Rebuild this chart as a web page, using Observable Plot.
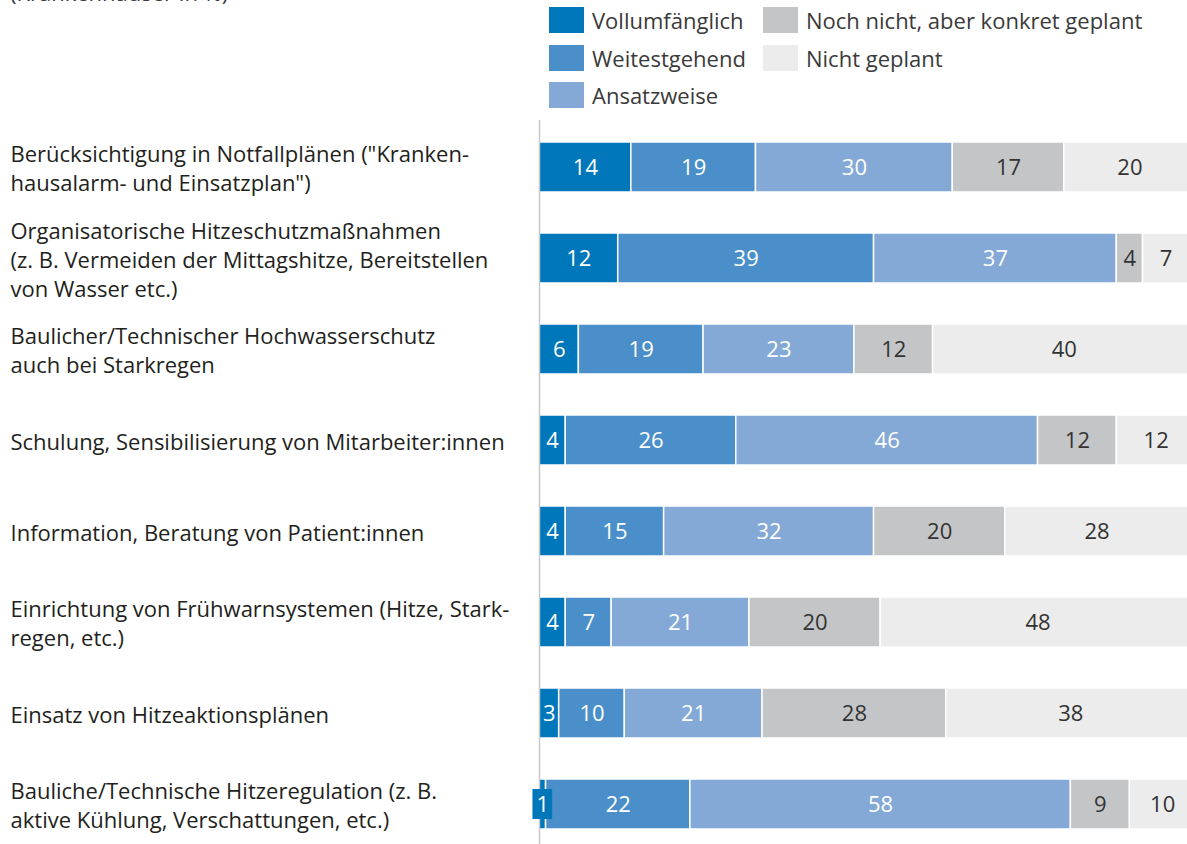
<!DOCTYPE html>
<html>
<head>
<meta charset="utf-8">
<script src="https://cdn.jsdelivr.net/npm/d3@7"></script>
<script src="https://cdn.jsdelivr.net/npm/@observablehq/plot@0.6"></script>
<style>
  html, body { margin: 0; padding: 0; background: #fff; }
  body { width: 1187px; height: 844px; overflow: hidden; position: relative; font-family: "Open Sans", sans-serif; color: #231f20; }
  #title { position: absolute; left: 10px; top: -23.5px; font-size: 22px; line-height: 30px; white-space: nowrap; color: #3a3a3a; }
  #legend { position: absolute; left: 549px; top: 7px; display: grid; grid-template-columns: 214px auto; grid-auto-rows: 26px; row-gap: 11.5px; font-size: 22px; color: #3a3a3a; }
  .item { display: flex; align-items: center; height: 26px; white-space: nowrap; }
  .sw { width: 35px; height: 26px; margin-right: 8px; flex: none; }
  #chart { position: absolute; left: 0; top: 0; }
</style>
</head>
<body>
<div id="title">(Krankenhäuser in %)</div>
<div id="legend"></div>
<div id="chart"></div>
<script>
const categories = [
  "Berücksichtigung in Notfallplänen (\"Kranken-\nhausalarm- und Einsatzplan\")",
  "Organisatorische Hitzeschutzmaßnahmen\n(z. B. Vermeiden der Mittagshitze, Bereitstellen\nvon Wasser etc.)",
  "Baulicher/Technischer Hochwasserschutz\nauch bei Starkregen",
  "Schulung, Sensibilisierung von Mitarbeiter:innen",
  "Information, Beratung von Patient:innen",
  "Einrichtung von Frühwarnsystemen (Hitze, Stark-\nregen, etc.)",
  "Einsatz von Hitzeaktionsplänen",
  "Bauliche/Technische Hitzeregulation (z. B.\naktive Kühlung, Verschattungen, etc.)"
];
const series = ["Vollumfänglich", "Weitestgehend", "Ansatzweise", "Noch nicht, aber konkret geplant", "Nicht geplant"];
const colors = ["#0077bb", "#4a8fc9", "#84a9d6", "#c4c5c7", "#ebeceb"];
const labelColors = ["#ffffff", "#ffffff", "#ffffff", "#333333", "#333333"];
const vollumfaenglich = [14, 12, 6, 4, 4, 4, 3, 1];
const weitestgehend   = [19, 39, 19, 26, 15, 7, 10, 22];
const ansatzweise     = [30, 37, 23, 46, 32, 21, 21, 58];
const nochNicht       = [17, 4, 12, 12, 20, 20, 28, 9];
const nichtGeplant    = [20, 7, 40, 12, 28, 48, 38, 10];
const legendOrder = [0, 3, 1, 4, 2];

const seriesValues = [vollumfaenglich, weitestgehend, ansatzweise, nochNicht, nichtGeplant];
const rows = [];
categories.forEach((c, i) => {
  let acc = 0;
  series.forEach((s, j) => {
    const v = seriesValues[j][i];
    rows.push({cat: c, series: s, value: v, x1: acc, x2: acc + v, idx: j});
    acc += v;
  });
});
const small = rows.filter(d => d.value < 2);

const step = 91.43, pad = 0.45;
const firstCenter = 165.5;
const r0 = firstCenter - step * (pad + (1 - pad) / 2);
const r1 = r0 + step * (categories.length + pad);

const chart = Plot.plot({
  width: 1187,
  height: 844,
  marginLeft: 539,
  marginRight: 0,
  marginTop: 120,
  marginBottom: 0,
  style: {fontFamily: "'Open Sans', sans-serif", fontSize: "22px", color: "#231f20", background: "transparent", overflow: "hidden"},
  x: {domain: [0, 100], range: [539, 1195], axis: null},
  y: {domain: categories, range: [r0, r1], padding: pad, label: null},
  color: {domain: series, range: colors},
  marks: [
    Plot.barX(rows, {y: "cat", x1: "x1", x2: "x2", fill: "series", stroke: "#fff", strokeWidth: 1.5}),
    Plot.ruleX([0], {stroke: "#c8c8c8", strokeWidth: 1.5}),
    Plot.barX(small, {y: "cat", x1: d => (d.x1 + d.x2) / 2 - 1.5, x2: d => (d.x1 + d.x2) / 2 + 1.5, fill: "series", insetTop: 10, insetBottom: 10}),
    Plot.text(rows, {y: "cat", x: d => (d.x1 + d.x2) / 2, text: d => String(d.value), fill: d => labelColors[d.idx], fontSize: 22}),
    Plot.axisY({tickSize: 0, textAnchor: "start", dx: -529, fontSize: 22, lineHeight: 1.32, fill: "#231f20", tickPadding: 0})
  ]
});
document.getElementById("chart").appendChild(chart);

const legend = document.getElementById("legend");
legendOrder.forEach(j => {
  const el = document.createElement("div");
  el.className = "item";
  el.innerHTML = `<span class="sw" style="background:${colors[j]}"></span><span>${series[j]}</span>`;
  legend.appendChild(el);
});
</script>
</body>
</html>
